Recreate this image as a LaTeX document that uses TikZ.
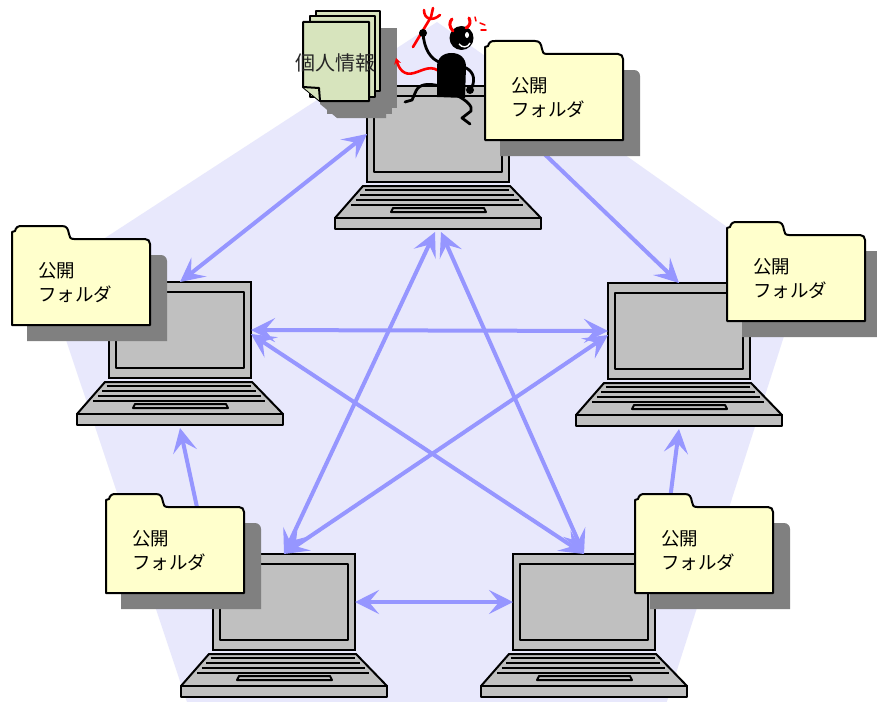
\documentclass[tikz,border=0pt]{standalone}
\usepackage{fontspec}
\usetikzlibrary{arrows.meta}
\newfontfamily\jpfont{Noto Sans CJK JP}

\definecolor{bgpent}{RGB}{232,232,252}
\definecolor{linkblue}{RGB}{150,150,255}
\definecolor{lapgray}{RGB}{192,192,192}
\definecolor{foldery}{RGB}{255,255,204}
\definecolor{shadowgray}{RGB}{128,128,128}
\definecolor{memogreen}{RGB}{215,228,189}

% laptop: name, x, y of the screen's top left corner
\newcommand{\laptop}[3]{%
    \node[screen] (#1) at (#2,#3) {};
    \begin{scope}[shift={(#2,#3)}]
        \draw[panel] (7,10) rectangle (135,86);
        \draw[panel] (-4,100) -- (143,100) -- (174,132) -- (-32,132) -- cycle;
        \foreach \k in {104,109,114,119}
            \draw[keyrow] ({-4-0.875*(\k-100)+5},\k) -- ({143+0.97*(\k-100)-5},\k);
        \draw[panel] (26,122) -- (117,122) -- (119,126) -- (24,126) -- cycle;
        \draw[panel] (-32,132) rectangle (174,143);
        \coordinate (#1-foot) at (71,146);
    \end{scope}}

% folder: name, x, y of the tab's top left corner
\newcommand{\folder}[3]{%
    \begin{scope}[shift={(#2,#3)}]
        \fill[shadowfill] (15,115) -- (15,29) [rounded corners=6pt] -- (155,29) [sharp corners] -- (155,115) -- cycle;
        \draw[folderbox] (0,99) -- (0,6) -- (3,5) .. controls (4,1) and (6,0) .. (10,0) -- (50,0)
            .. controls (55,0) and (56,3) .. (57,8) .. controls (57.5,11) and (58,13) .. (62,13) -- (133,13)
            .. controls (136,13) and (138,15) .. (138,18) -- (138,99) -- cycle;
        \node[foldertext] (#1) at (26,57) {公開\\フォルダ};
    \end{scope}}

\begin{document}
\begin{tikzpicture}[x=1pt,y=-1pt]
    \tikzstyle{screen}=[draw, fill=lapgray, line width=2pt, minimum width=142pt, minimum height=96pt, inner sep=0pt, outer sep=0pt, anchor=north west]
    \tikzstyle{panel}=[draw, fill=lapgray, line width=2pt, line join=round]
    \tikzstyle{keyrow}=[line width=2.2pt]
    \tikzstyle{link}=[<->, >={Stealth[length=24pt,width=24pt,inset=10pt]}, draw=linkblue, line width=4pt]
    \tikzstyle{folderbox}=[draw, fill=foldery, line width=2pt, line join=round]
    \tikzstyle{shadowfill}=[fill=shadowgray]
    \tikzstyle{foldertext}=[anchor=west, align=left, inner sep=0pt, font=\jpfont\fontsize{18.5}{24}\selectfont]
    \tikzstyle{page}=[draw, fill=memogreen, line width=2pt, line join=round]
    \tikzstyle{memotext}=[inner sep=0pt, text=black!85, font=\jpfont\fontsize{20}{24}\selectfont]
    \tikzstyle{limb}=[line width=2.8pt, line cap=round, line join=round]
    \tikzstyle{fork}=[red, line width=2.6pt, line cap=round, line join=round]

    \useasboundingbox (0,0) rectangle (877,701);
    \fill[white] (0,0) rectangle (877,701);
    \begin{scope}
        \clip (0,0) rectangle (877,701);
        \fill[bgpent] (437,22) -- (802,280) -- (661,720) -- (193,720) -- (45,277) -- cycle;
    \end{scope}

    \laptop{pcT}{367}{86}
    \laptop{pcL}{109}{282}
    \laptop{pcR}{608}{283}
    \laptop{pcBL}{213}{554}
    \laptop{pcBR}{513}{554}

    \draw[link] (pcT.west) -- (pcL.north);
    \draw[link] ([yshift=14pt]pcT.east) -- (pcR.north);
    \draw[link] (pcL.east) -- (pcR.west);
    \draw[link] ([yshift=-4pt]pcL.east) -- (pcBR.north);
    \draw[link] ([yshift=-4pt]pcR.west) -- (pcBL.north);
    \draw[link] ([xshift=-3pt]pcT-foot) -- (pcBL.north);
    \draw[link] ([xshift=3pt]pcT-foot) -- (pcBR.north);
    \draw[link] (pcL-foot) -- ([xshift=-6pt]pcBL.north west);
    \draw[link] (pcR-foot) -- ([xshift=8pt]pcBR.north east);
    \draw[link] (pcBL.east) -- (pcBR.west);

    \folder{fdT}{485}{41}
    \folder{fdL}{12}{226}
    \folder{fdR}{727}{222}
    \folder{fdBL}{106}{494}
    \folder{fdBR}{635}{494}

    % personal data sheets
    \fill[shadowfill] (333,28) rectangle (397,108);
    \fill[shadowfill] (327,33) rectangle (392,114);
    \fill[shadowfill] (320,39) -- (386,39) -- (386,118) -- (337,118) -- (320,104) -- cycle;
    \draw[page] (316,11) rectangle (380,91);
    \draw[page] (310,16) rectangle (375,97);
    \draw[page] (303,22) -- (369,22) -- (369,101) -- (320,101) -- (303,87) -- cycle;
    \draw[page] (303,87) -- (319,88) -- (320,101);
    \node[memotext] (memo) at (335,63) {個人情報};

    % devil
    \draw[fork] (413,47) -- (431,17);
    \draw[fork] (424,10) .. controls (424,19) and (432,22) .. (440,15);
    \draw[fork] (431,17) -- (433,8);
    \draw[fork, -{Stealth[length=6pt,width=7pt]}] (441,73) .. controls (432,64) and (424,70) .. (414,73)
        .. controls (404,76) and (399,69) .. (396,58);
    \draw[limb] (423,33) .. controls (424,48) and (430,60) .. (442,63);
    \fill (423,33) circle (4pt);
    \draw[limb] (464,67) .. controls (472,70) and (477,78) .. (471,89);
    \fill (470,90) circle (4pt);
    \draw[limb] (440,86) .. controls (428,83) and (419,84) .. (416,91) -- (412,100) -- (405,102);
    \draw[limb] (456,95) .. controls (466,100) and (473,106) .. (471,111) -- (462,118) -- (470,124);
    \fill (437,97) -- (437,67) .. controls (437,58) and (443,53) .. (451.5,53)
        .. controls (460,53) and (466,58) .. (466,67) -- (465,98) -- cycle;
    \fill (461.5,38) circle (12pt);
    \fill[white] (467,35) ellipse (2pt and 3pt);
    \draw[white, line width=1.4pt] (459,44) .. controls (462,48) and (468,48) .. (470,43);
    \draw[fork, line width=3pt] (453,31) .. controls (449,27) and (449,22) .. (452,19);
    \draw[fork, line width=3pt] (466,28) .. controls (470,26) and (471,22) .. (469,18);
    \draw[fork, line width=1.5pt] (475,17) -- (476,21);
    \draw[fork, line width=1.5pt] (480,23) -- (485,25);
    \draw[fork, line width=1.5pt] (481,30) -- (486,30);
\end{tikzpicture}
\end{document}
